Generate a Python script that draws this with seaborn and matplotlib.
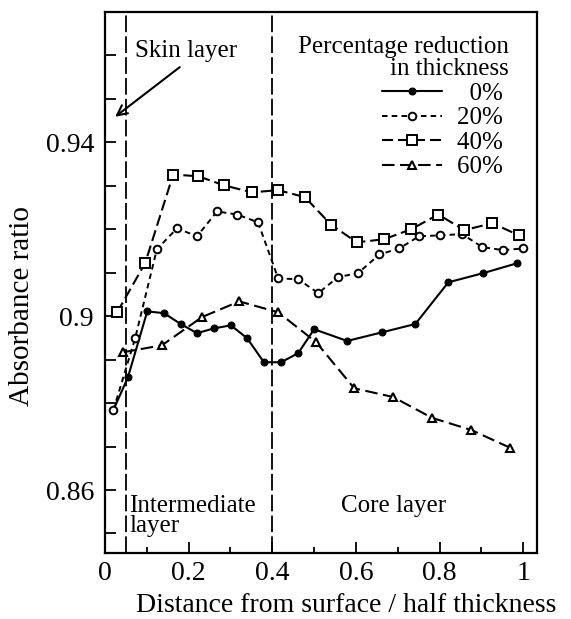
import numpy as np
import matplotlib
matplotlib.use("Agg")
import matplotlib.pyplot as plt
import seaborn as sns

# values
x_0 = [0.02, 0.055, 0.101, 0.141, 0.181, 0.220, 0.261, 0.301, 0.340, 0.380,
       0.421, 0.462, 0.500, 0.579, 0.663, 0.742, 0.821, 0.904, 0.986]
y_0 = [0.8784, 0.886, 0.9011, 0.9007, 0.8982, 0.8961, 0.8972, 0.8979, 0.8949, 0.8894,
       0.8894, 0.8915, 0.897, 0.8943, 0.8963, 0.8982, 0.9078, 0.9099, 0.9122]

x_20 = [0.02, 0.072, 0.124, 0.172, 0.220, 0.268, 0.316, 0.366, 0.414, 0.462, 0.510,
        0.557, 0.605, 0.656, 0.704, 0.751, 0.801, 0.854, 0.902, 0.952, 1.0]
y_20 = [0.8784, 0.8949, 0.9154, 0.9202, 0.9184, 0.9241, 0.9234, 0.9216, 0.9087, 0.9085, 0.9053,
        0.909, 0.9099, 0.9142, 0.9156, 0.9184, 0.9186, 0.9189, 0.9159, 0.9152, 0.9156]

x_40 = [0.029, 0.096, 0.163, 0.223, 0.285, 0.351, 0.414, 0.478, 0.540, 0.602,
        0.667, 0.732, 0.797, 0.859, 0.926, 0.990]
y_40 = [0.9009, 0.9122, 0.9326, 0.9322, 0.9301, 0.9285, 0.929, 0.9274, 0.9211, 0.917,
        0.9177, 0.920, 0.9234, 0.9198, 0.9214, 0.9186]

x_60 = [0.043, 0.136, 0.232, 0.321, 0.414, 0.505, 0.596, 0.689, 0.782, 0.876, 0.969]
y_60 = [0.8917, 0.8933, 0.8998, 0.9034, 0.9009, 0.894, 0.8834, 0.8814, 0.8766, 0.8738, 0.8697]

labels = ["  0% ", "20% ", "40% ", "60% "]
layer_bounds = [0.05, 0.40]

sns.set_style("ticks")
plt.rcParams['font.family'] = ['Liberation Serif', 'DejaVu Serif']
plt.rcParams['lines.scale_dashes'] = False
for key in ['text.color', 'axes.labelcolor', 'xtick.color', 'ytick.color', 'axes.edgecolor']:
    plt.rcParams[key] = 'black'

fig = plt.figure(figsize=(5.71, 6.19), dpi=100)
ax = fig.add_axes([0.1839, 0.1066, 0.7566, 0.8740])

sns.lineplot(x=x_0, y=y_0, ax=ax, color="black", lw=1.5, linestyle="-",
             marker="o", markersize=5, markerfacecolor="black", markeredgecolor="black",
             label=labels[0])
sns.lineplot(x=x_20, y=y_20, ax=ax, color="black", lw=1.4, linestyle=(0, (4, 3)),
             marker="o", markersize=5.5, markerfacecolor="white", markeredgecolor="black",
             markeredgewidth=1.4, label=labels[1])
sns.lineplot(x=x_40, y=y_40, ax=ax, color="black", lw=1.5, linestyle=(0, (8, 3.5)),
             marker="s", markersize=6.5, markerfacecolor="white", markeredgecolor="black",
             markeredgewidth=1.4, label=labels[2])
sns.lineplot(x=x_60, y=y_60, ax=ax, color="black", lw=1.5, linestyle=(0, (9, 4)),
             marker="^", markersize=6, markerfacecolor="white", markeredgecolor="black",
             markeredgewidth=1.5, label=labels[3])

# layer boundaries
for xb in layer_bounds:
    ax.axvline(xb, color="black", lw=1.3, linestyle=(0, (12, 3)))

ax.set_xlim(0, 1.033)
ax.set_ylim(0.8455, 0.970)

ax.set_xticks([0, 0.2, 0.4, 0.6, 0.8, 1.0])
ax.set_xticklabels(["0", "0.2", "0.4", "0.6", "0.8", "1"])
ax.set_xticks(np.arange(0.1, 1.0, 0.2), minor=True)
ax.set_yticks([0.86, 0.90, 0.94])
ax.set_yticklabels(["0.86", "0.9", "0.94"])
ax.set_yticks(np.arange(0.85, 0.975, 0.01), minor=True)

ax.tick_params(axis="both", which="both", direction="in", labelsize=20, width=1.3)
ax.tick_params(axis="x", which="both", pad=6)
ax.tick_params(axis="y", which="both", pad=8)
ax.tick_params(axis="x", which="major", length=8)
ax.tick_params(axis="x", which="minor", length=4)
ax.tick_params(axis="y", which="both", length=8)
for sp in ax.spines.values():
    sp.set_linewidth(1.6)
    sp.set_visible(True)

ax.set_xlabel("Distance from surface / half thickness", fontsize=20)
ax.xaxis.set_label_coords(0.558, -0.073)
ax.set_ylabel("Absorbance ratio", fontsize=21)
ax.yaxis.set_label_coords(-0.162, 0.4566)

# annotations
ax.text(0.072, 0.9611, "Skin layer", fontsize=18, ha="left", va="center")
ax.annotate("", xy=(0.019, 0.9455), xytext=(0.184, 0.9577),
            arrowprops=dict(arrowstyle="->", color="black", lw=1.5, mutation_scale=18))
ax.text(0.058, 0.8588, "Intermediate\nlayer", fontsize=18, ha="left", va="top",
        linespacing=0.85)
ax.text(0.689, 0.8563, "Core layer", fontsize=18, ha="center", va="center")

leg = ax.legend(title="Percentage reduction\nin thickness", loc="upper right",
                bbox_to_anchor=(0.935, 0.955), frameon=False, alignment="right",
                fontsize=18, title_fontsize=18, handlelength=2.4,
                handletextpad=0.6, labelspacing=0.08, borderpad=0, borderaxespad=0)
leg.get_title().set_multialignment("right")
leg.get_title().set_linespacing(1.0)

fig.savefig("out.png", dpi=100)
